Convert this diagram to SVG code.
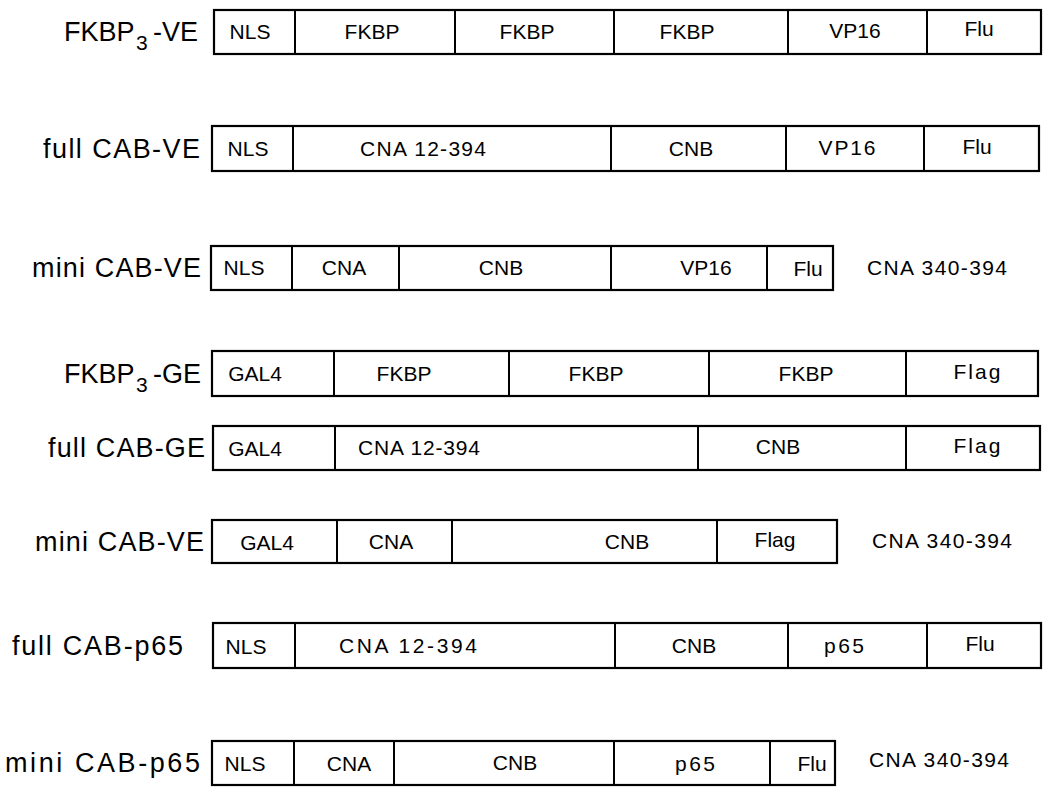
<svg xmlns="http://www.w3.org/2000/svg" width="1046" height="811" viewBox="0 0 1046 811">
<style>
.box{fill:#fff;stroke:#000;stroke-width:2.2}
.dv{stroke:#000;stroke-width:2}
.lbl{font-family:"Liberation Sans",Arial,sans-serif;font-size:27px;fill:#000}
.t{font-family:"Liberation Sans",Arial,sans-serif;font-size:21px;fill:#000;text-anchor:middle}
.side{font-family:"Liberation Sans",Arial,sans-serif;font-size:21px;fill:#000}
</style>
<rect width="1046" height="811" fill="#fff"/>
<g id="connectors"/>
<g id="r1">
<text class="lbl"><tspan x="64" y="41">FKBP</tspan><tspan x="136" y="50" font-size="21">3</tspan><tspan x="153" y="41">-VE</tspan></text>
<rect class="box" x="214" y="10" width="827" height="44"/>
<path class="dv" d="M295 10V54M455 10V54M614 10V54M788 10V54M927 10V54"/>
<text class="t" x="250" y="39">NLS</text>
<text class="t" x="372" y="39">FKBP</text>
<text class="t" x="527" y="39">FKBP</text>
<text class="t" x="687" y="39">FKBP</text>
<text class="t" x="855" y="38">VP16</text>
<text class="t" x="979" y="36">Flu</text>
</g>
<g id="r2">
<text class="lbl" x="43" y="158" textLength="157">full CAB-VE</text>
<rect class="box" x="212" y="126" width="827" height="45"/>
<path class="dv" d="M293 126V171M611 126V171M786 126V171M924 126V171"/>
<text class="t" x="248" y="156">NLS</text>
<text class="t" x="423" y="156" textLength="126">CNA 12-394</text>
<text class="t" x="691" y="156">CNB</text>
<text class="t" x="847" y="155" textLength="57">VP16</text>
<text class="t" x="977" y="154">Flu</text>
</g>
<g id="r3">
<text class="lbl" x="32" y="277" textLength="169">mini CAB-VE</text>
<rect class="box" x="211" y="246" width="622" height="44"/>
<path class="dv" d="M292 246V290M399 246V290M611 246V290M767 246V290"/>
<text class="t" x="244" y="275">NLS</text>
<text class="t" x="344" y="275">CNA</text>
<text class="t" x="501" y="275">CNB</text>
<text class="t" x="706" y="275">VP16</text>
<text class="t" x="808" y="276">Flu</text>
<text class="side" x="867" y="275" textLength="140">CNA 340-394</text>
</g>
<g id="r4">
<text class="lbl"><tspan x="64" y="383">FKBP</tspan><tspan x="136" y="392" font-size="21">3</tspan><tspan x="153" y="383">-GE</tspan></text>
<rect class="box" x="212" y="351" width="826" height="45"/>
<path class="dv" d="M334 351V396M509 351V396M709 351V396M906 351V396"/>
<text class="t" x="255" y="381">GAL4</text>
<text class="t" x="404" y="381">FKBP</text>
<text class="t" x="596" y="381">FKBP</text>
<text class="t" x="806" y="381">FKBP</text>
<text class="t" x="977" y="379" textLength="47">Flag</text>
</g>
<g id="r5">
<text class="lbl" x="48" y="457" textLength="157">full CAB-GE</text>
<rect class="box" x="213" y="426" width="827" height="44"/>
<path class="dv" d="M335 426V470M698 426V470M906 426V470"/>
<text class="t" x="255" y="456">GAL4</text>
<text class="t" x="419" y="455" textLength="122">CNA 12-394</text>
<text class="t" x="778" y="454">CNB</text>
<text class="t" x="977" y="453" textLength="47">Flag</text>
</g>
<g id="r6">
<text class="lbl" x="35" y="551" textLength="169">mini CAB-VE</text>
<rect class="box" x="212" y="520" width="625" height="43"/>
<path class="dv" d="M337 520V563M452 520V563M717 520V563"/>
<text class="t" x="267" y="550">GAL4</text>
<text class="t" x="391" y="549">CNA</text>
<text class="t" x="627" y="549">CNB</text>
<text class="t" x="775" y="547">Flag</text>
<text class="side" x="872" y="548" textLength="140">CNA 340-394</text>
</g>
<g id="r7">
<text class="lbl" x="12" y="655" font-size="28" textLength="171">full CAB-p65</text>
<rect class="box" x="213" y="623" width="828" height="45"/>
<path class="dv" d="M295 623V668M615 623V668M788 623V668M927 623V668"/>
<text class="t" x="246" y="654">NLS</text>
<text class="t" x="408" y="653" textLength="138">CNA 12-394</text>
<text class="t" x="694" y="653">CNB</text>
<text class="t" x="844" y="653" textLength="40">p65</text>
<text class="t" x="980" y="651">Flu</text>
</g>
<g id="r8">
<text class="lbl" x="5" y="772" font-size="28" textLength="195">mini CAB-p65</text>
<rect class="box" x="212" y="741" width="623" height="44"/>
<path class="dv" d="M294 741V785M394 741V785M614 741V785M770 741V785"/>
<text class="t" x="245" y="771">NLS</text>
<text class="t" x="349" y="771">CNA</text>
<text class="t" x="515" y="770">CNB</text>
<text class="t" x="695" y="771" textLength="40">p65</text>
<text class="t" x="812" y="771">Flu</text>
<text class="side" x="869" y="767" textLength="140">CNA 340-394</text>
</g>
</svg>
